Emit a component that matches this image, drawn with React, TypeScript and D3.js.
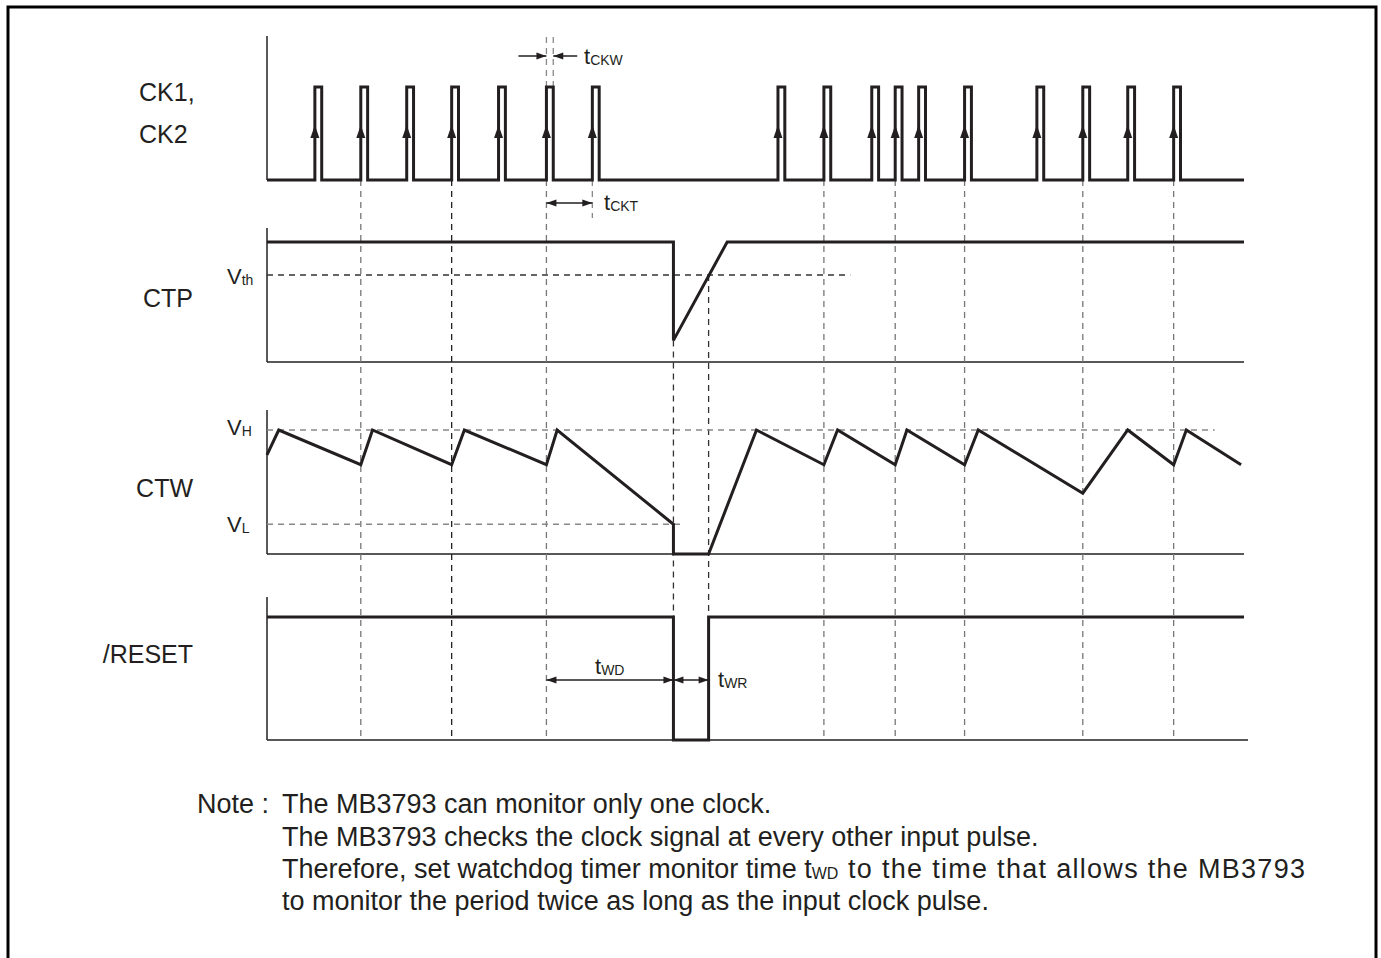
import React from "react";
import * as d3 from "d3";

// time axis in arbitrary units (0..100 across the diagram)
const timeExtent: [number, number] = [0, 100];

// CK1/CK2 rising edges and pulse width
const ckRisingEdges = [4.9, 9.6, 14.3, 18.9, 23.7, 28.6, 33.3, 52.3, 57.0, 61.9, 64.3, 66.7, 71.4, 78.8, 83.5, 88.1, 92.8];
const ckPulseWidth = 0.7;

// CTP waveform (normalised level, 1 = high)
const ctpPoints: [number, number][] = [[0, 1], [41.6, 1], [41.6, 0.18], [47.1, 1], [100, 1]];
const ctpVth = 0.725;
const ctpVthEnd = 59.7;

// CTW waveform (normalised level, 1 = VH)
const ctwPoints: [number, number][] = [
  [0, 0.8], [1.2, 1], [9.6, 0.72], [10.8, 1], [18.9, 0.72], [20.2, 1], [28.6, 0.72], [29.7, 1],
  [41.6, 0.24], [41.6, 0], [45.2, 0], [50.1, 1], [57.0, 0.72], [58.4, 1], [64.3, 0.72], [65.5, 1],
  [71.4, 0.72], [72.8, 1], [83.5, 0.49], [88.1, 1], [92.8, 0.72], [94.1, 1], [99.7, 0.72],
];
const ctwVH = 1;
const ctwVL = 0.24;

// /RESET waveform
const resetPoints: [number, number][] = [[0, 1], [41.6, 1], [41.6, 0], [45.2, 0], [45.2, 1], [100, 1]];

// dashed timing guides
const guideTimes = [9.6, 18.9, 28.6, 57.0, 64.3, 71.4, 83.5, 92.8];
const resetStart = 41.6;
const resetEnd = 45.2;

const noteLines = [
  "The MB3793 can monitor only one clock.",
  "The MB3793 checks the clock signal at every other input pulse.",
  "Therefore, set watchdog timer monitor time ",
  "to the time that allows the MB3793",
  "to monitor the period twice as long as the input clock pulse.",
];

const INK = "#231f20";
const FONT = "'Liberation Sans', Arial, Helvetica, sans-serif";

const x = d3.scaleLinear().domain(timeExtent).range([267, 1244]);
const yCK = d3.scaleLinear().domain([0, 1]).range([180, 87]);
const yCTP = d3.scaleLinear().domain([0, 1]).range([362, 242]);
const yCTW = d3.scaleLinear().domain([0, 1]).range([554, 430]);
const yRST = d3.scaleLinear().domain([0, 1]).range([740, 617]);

function head(xt: number, yt: number, dir: "left" | "right" | "up", len = 10, hw = 3.5) {
  if (dir === "right") return `${xt},${yt} ${xt - len},${yt - hw} ${xt - len},${yt + hw}`;
  if (dir === "left") return `${xt},${yt} ${xt + len},${yt - hw} ${xt + len},${yt + hw}`;
  return `${xt},${yt} ${xt - hw},${yt + len} ${xt + hw},${yt + len}`;
}

const Arrow: React.FC<{ x1: number; x2: number; y: number; both?: boolean }> = ({ x1, x2, y, both }) => (
  <g>
    <line x1={x1} x2={x2} y1={y} y2={y} stroke={INK} strokeWidth={1.5} />
    <polygon points={head(x2, y, x2 > x1 ? "right" : "left")} fill={INK} />
    {both && <polygon points={head(x1, y, x2 > x1 ? "left" : "right")} fill={INK} />}
  </g>
);

const Sub: React.FC<{ x: number; y: number; main: string; sub: string; size?: number; subSize?: number }> = ({
  x, y, main, sub, size = 22, subSize = 14,
}) => (
  <text x={x} y={y} fontFamily={FONT} fontSize={size} fill={INK}>
    {main}
    <tspan fontSize={subSize} dy={1}>{sub}</tspan>
  </text>
);

const App: React.FC = () => {
  const ckData: [number, number][] = [[0, 0]];
  ckRisingEdges.forEach((e) => {
    ckData.push([e, 0], [e, 1], [e + ckPulseWidth, 1], [e + ckPulseWidth, 0]);
  });
  ckData.push([100, 0]);

  const ckPath = d3.line<[number, number]>().x((d) => x(d[0])).y((d) => yCK(d[1]))(ckData) || "";
  const ctpPath = d3.line<[number, number]>().x((d) => x(d[0])).y((d) => yCTP(d[1]))(ctpPoints) || "";
  const ctwPath = d3.line<[number, number]>().x((d) => x(d[0])).y((d) => yCTW(d[1]))(ctwPoints) || "";
  const rstPath = d3.line<[number, number]>().x((d) => x(d[0])).y((d) => yRST(d[1]))(resetPoints) || "";

  const darkGuides = new Set([18.9]);
  const labelSize = 25;
  const noteSize = 27;

  return (
    <svg
      width={1381}
      height={958}
      style={{ position: "absolute", left: 0, top: 0, background: "#fff" }}
    >
      <rect x={8} y={7} width={1368} height={1000} fill="none" stroke="#000" strokeWidth={3} />

      {/* axes */}
      <g stroke={INK} strokeWidth={1.5}>
        <line x1={x(0)} x2={x(0)} y1={36} y2={yCK(0)} />
        <line x1={x(0)} x2={x(0)} y1={228} y2={yCTP(0)} />
        <line x1={x(0)} x2={x(100)} y1={yCTP(0)} y2={yCTP(0)} />
        <line x1={x(0)} x2={x(0)} y1={410} y2={yCTW(0)} />
        <line x1={x(0)} x2={x(100)} y1={yCTW(0)} y2={yCTW(0)} />
        <line x1={x(0)} x2={x(0)} y1={597} y2={yRST(0)} />
        <line x1={x(0)} x2={x(100) + 4} y1={yRST(0)} y2={yRST(0)} />
      </g>

      {/* dashed guides */}
      <g strokeWidth={1.3} strokeDasharray="6,5" fill="none">
        {guideTimes.map((t) => (
          <line key={t} x1={x(t)} x2={x(t)} y1={yCK(0)} y2={yRST(0)} stroke={darkGuides.has(t) ? "#222" : "#777"} />
        ))}
        <line x1={x(resetStart)} x2={x(resetStart)} y1={yCTP(0.18)} y2={yRST(0)} stroke="#333" />
        <line x1={x(resetEnd)} x2={x(resetEnd)} y1={yCTP(ctpVth)} y2={yRST(0)} stroke="#333" />
        <line x1={x(0)} x2={x(ctpVthEnd)} y1={yCTP(ctpVth)} y2={yCTP(ctpVth)} stroke="#333" />
        <line x1={x(0)} x2={x(97)} y1={yCTW(ctwVH)} y2={yCTW(ctwVH)} stroke="#888" />
        <line x1={x(0)} x2={x(42.5)} y1={yCTW(ctwVL)} y2={yCTW(ctwVL)} stroke="#888" />
        {/* tCKW / tCKT markers */}
        <line x1={x(28.6)} x2={x(28.6)} y1={37} y2={yCK(1)} stroke="#888" />
        <line x1={x(28.6 + ckPulseWidth)} x2={x(28.6 + ckPulseWidth)} y1={37} y2={yCK(1)} stroke="#888" />
        <line x1={x(33.3)} x2={x(33.3)} y1={yCK(0)} y2={218} stroke="#888" />
      </g>

      {/* waveforms */}
      <g fill="none" stroke={INK} strokeWidth={3} strokeLinejoin="miter">
        <path d={ckPath} />
        <path d={ctpPath} />
        <path d={ctwPath} />
        <path d={rstPath} />
      </g>

      {/* rising edge arrows */}
      <g fill={INK}>
        {ckRisingEdges.map((e) => (
          <polygon key={e} points={head(x(e), 125, "up", 13, 4.5)} />
        ))}
      </g>

      {/* timing arrows */}
      <Arrow x1={x(28.6) - 28} x2={x(28.6)} y={56} />
      <Arrow x1={x(28.6 + ckPulseWidth) + 24} x2={x(28.6 + ckPulseWidth)} y={56} />
      <Sub x={584} y={64} main="t" sub="CKW" />
      <Arrow x1={x(28.6)} x2={x(33.3)} y={203} both />
      <Sub x={604} y={210} main="t" sub="CKT" />
      <Arrow x1={x(28.6)} x2={x(resetStart)} y={680} both />
      <Sub x={595} y={674} main="t" sub="WD" />
      <Arrow x1={x(resetStart)} x2={x(resetEnd)} y={680} both />
      <Sub x={718} y={687} main="t" sub="WR" />

      {/* signal labels */}
      <g fontFamily={FONT} fontSize={labelSize} fill={INK}>
        <text x={139} y={101}>CK1,</text>
        <text x={139} y={143}>CK2</text>
        <text x={193} y={307} textAnchor="end">CTP</text>
        <text x={193} y={497} textAnchor="end">CTW</text>
        <text x={193} y={663} textAnchor="end">/RESET</text>
      </g>
      <Sub x={227} y={284} main="V" sub="th" />
      <Sub x={227} y={435} main="V" sub="H" />
      <Sub x={227} y={532} main="V" sub="L" />

      {/* note */}
      <g fontFamily={FONT} fontSize={noteSize} fill={INK}>
        <text x={197} y={813}>Note :</text>
        <text x={282} y={813}>{noteLines[0]}</text>
        <text x={282} y={846}>{noteLines[1]}</text>
        <text x={282} y={878}>
          {noteLines[2]}t<tspan fontSize={16} dy={1}>WD</tspan>
        </text>
        <text x={848} y={878} textLength={457} lengthAdjust="spacing">{noteLines[3]}</text>
        <text x={282} y={910}>{noteLines[4]}</text>
      </g>
    </svg>
  );
};

export default App;
